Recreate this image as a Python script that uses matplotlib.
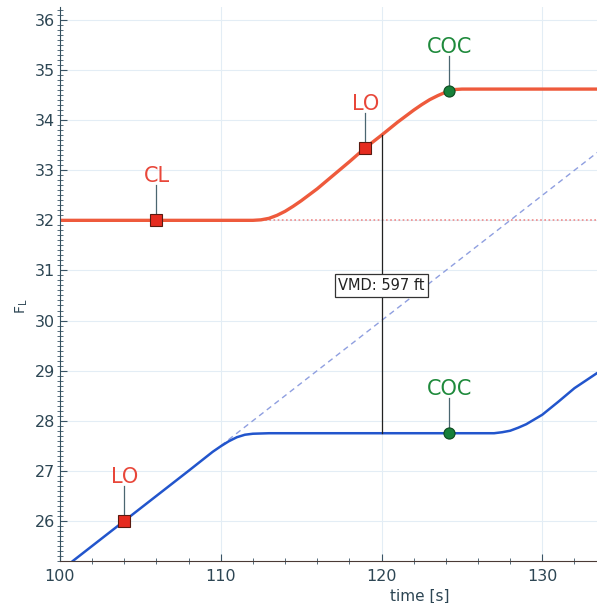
import matplotlib.pyplot as plt
from matplotlib.ticker import MultipleLocator

# red aircraft (climbing)
red_t = [100, 112, 112.5, 113, 113.5, 114, 114.5, 115, 116, 117, 118, 119, 120, 121, 122,
         122.5, 123, 123.5, 124, 124.5, 125, 134]
red_fl = [32.0, 32.0, 32.01, 32.04, 32.1, 32.18, 32.28, 32.39, 32.63, 32.9, 33.17, 33.45, 33.7,
          33.96, 34.2, 34.31, 34.41, 34.49, 34.56, 34.61, 34.62, 34.62]

# blue aircraft
blue_t = [100.8, 104, 108, 109.5, 110, 110.5, 111, 111.5, 112, 113, 127, 127.5, 128, 128.5,
          129, 130, 131, 132, 133.4, 134]
blue_fl = [25.2, 26.0, 27.0, 27.38, 27.49, 27.59, 27.67, 27.72, 27.74, 27.75, 27.75, 27.77,
           27.8, 27.86, 27.93, 28.12, 28.38, 28.65, 28.95, 29.05]

# extrapolations
red_dot_t = [112.5, 134]
red_dot_fl = [32.0, 32.0]
blue_dash_t = [110, 134]
blue_dash_fl = [27.5, 33.5]

# events: (label, time, FL, kind)
red_events = [("CL", 106, 32.0, "sq"), ("LO", 119, 33.45, "sq"), ("COC", 124.2, 34.58, "dot")]
blue_events = [("LO", 104, 26.0, "sq"), ("COC", 124.2, 27.75, "dot")]

vmd_t = 120
vmd_range = [27.75, 33.7]
vmd_text = "VMD: 597 ft"

fig = plt.figure(figsize=(5.97, 6.03), dpi=100)
ax = fig.add_axes([0.1005, 0.0697, 0.8995, 0.9188])

ax.grid(True, which='major', color='#e3edf5', lw=0.8)
ax.set_axisbelow(True)

ax.plot(red_dot_t, red_dot_fl, ls=(0, (1, 1.5)), color='#f08a8a', lw=1.2)
ax.plot(blue_dash_t, blue_dash_fl, ls=(0, (4, 3)), color='#8f9fe0', lw=1.0)
ax.plot(red_t, red_fl, color='#ee5a3c', lw=2.4, solid_joinstyle='round')
ax.plot(blue_t, blue_fl, color='#2255cc', lw=1.8, solid_joinstyle='round')

ax.plot([vmd_t, vmd_t], vmd_range, color='#222222', lw=0.9)
ax.text(vmd_t, 30.7, vmd_text, ha='center', va='center', fontsize=10.5,
        color='#222222', bbox=dict(boxstyle='square,pad=0.25', fc='white', ec='#333333', lw=0.9))

for label, t, fl, kind in red_events + blue_events:
    ax.plot([t, t], [fl, fl + 0.7], color='#4a6670', lw=0.9)
    if kind == "sq":
        ax.plot(t, fl, marker='s', ms=8, mfc='#e52b1f', mec='#5a1a10', mew=0.8)
        col = '#e8473a'
    else:
        ax.plot(t, fl, marker='o', ms=8, mfc='#17803a', mec='#0d4a20', mew=0.8)
        col = '#1f8a3c'
    ax.text(t, fl + 0.68, label, ha='center', va='bottom', fontsize=15, color=col)

ax.set_xlim(100, 133.4)
ax.set_ylim(25.2, 36.26)
ax.xaxis.set_major_locator(MultipleLocator(10))
ax.xaxis.set_minor_locator(MultipleLocator(2))
ax.yaxis.set_major_locator(MultipleLocator(1))
ax.yaxis.set_minor_locator(MultipleLocator(0.1))
ax.tick_params(which='major', direction='in', length=5, color='#3a5566',
               labelsize=11.5, labelcolor='#2d4654')
ax.tick_params(which='minor', direction='inout', length=4, color='#3a5566')
ax.tick_params(axis='x', which='major', pad=6)

for s in ['top', 'right']:
    ax.spines[s].set_visible(False)
ax.spines['left'].set_color('#34505e')
ax.spines['bottom'].set_color('#4a3a36')

ax.set_xlabel('time [s]', fontsize=11, color='#2d4654')
ax.xaxis.set_label_coords(0.67, -0.05)
ax.set_ylabel(r'F$_\mathrm{L}$', fontsize=10, color='#2d4654')
ax.yaxis.set_label_coords(-0.055, 0.46)

fig.savefig('out.png', dpi=100)
